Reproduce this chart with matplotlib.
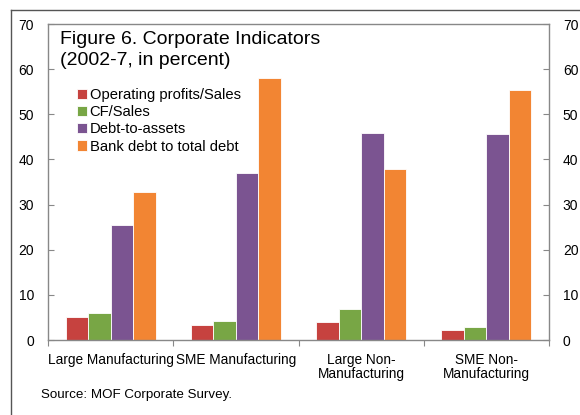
import numpy as np
import matplotlib.pyplot as plt
from matplotlib.lines import Line2D

plt.rcParams['font.family'] = ['Liberation Sans', 'DejaVu Sans']

# Data
categories = ["Large Manufacturing", "SME Manufacturing",
              "Large Non-\nManufacturing", "SME Non-\nManufacturing"]
op_profits = [5.1, 3.4, 4.0, 2.3]
cf_sales = [6.0, 4.2, 6.9, 2.8]
debt_assets = [25.4, 37.0, 45.9, 45.7]
bank_debt = [32.7, 58.0, 37.8, 55.3]

series = [op_profits, cf_sales, debt_assets, bank_debt]
names = ["Operating profits/Sales", "CF/Sales", "Debt-to-assets", "Bank debt to total debt"]
colors = ['#C6423F', '#78A645', '#7B5491', '#F28533']

W, H = 580, 415
fig = plt.figure(figsize=(5.8, 4.15), dpi=100)
ax = fig.add_axes([48 / W, 75 / H, 501 / W, 316 / H])

x = np.arange(len(categories)) + 0.5
bw = 0.18
for k, (vals, name, c) in enumerate(zip(series, names, colors)):
    ax.bar(x + (k - 1.5) * bw, vals, width=bw, color=c, label=name,
           edgecolor='white', linewidth=0.6)

ax.set_xlim(0, 4)
ax.set_ylim(0, 70)
ax.set_yticks(range(0, 71, 10))

# category ticks at boundaries, labels at centres
ax.set_xticks(range(0, 5))
ax.set_xticklabels([])
ax.set_xticks(x, minor=True)
ax.set_xticklabels(categories, minor=True, fontsize=9.8, linespacing=1.0)
ax.tick_params(axis='x', which='major', direction='out', length=4, color='#888888')
ax.tick_params(axis='x', which='minor', length=0, pad=9)
ax.tick_params(axis='y', direction='in', length=4, color='#888888',
               left=True, right=True, labelleft=True, labelright=True,
               labelsize=10, pad=10)

for s in ax.spines.values():
    s.set_color('#888888')
    s.set_linewidth(1.0)

# title inside the plot area
fig.text(60 / W, 1 - 31 / H, "Figure 6. Corporate Indicators\n(2002-7, in percent)",
         fontsize=14, va='top', ha='left', linespacing=1.3)

ax.legend(loc='upper left', bbox_to_anchor=(77 / W, 1 - 88 / H),
          bbox_transform=fig.transFigure, frameon=False, fontsize=10.6,
          handlelength=0.7, handleheight=0.7, handletextpad=0.15,
          labelspacing=0.22, borderpad=0, borderaxespad=0)

fig.text(41 / W, 1 - 395 / H, "Source: MOF Corporate Survey.", fontsize=9.6,
         va='center', ha='left')

# outer frame (top and left edges visible in the reference)
fig.add_artist(Line2D([11 / W, 1], [1 - 10 / H, 1 - 10 / H], color='#555555', lw=1,
                      transform=fig.transFigure))
fig.add_artist(Line2D([11 / W, 11 / W], [0, 1 - 10 / H], color='#555555', lw=1,
                      transform=fig.transFigure))

fig.savefig('out.png', dpi=100)
